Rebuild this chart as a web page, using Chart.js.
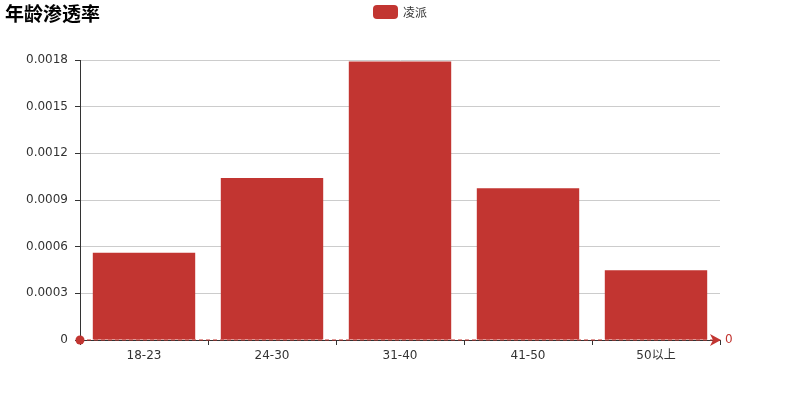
<!DOCTYPE html>
<html>
<head>
<meta charset="utf-8">
<script src="https://cdn.jsdelivr.net/npm/chart.js@4/dist/chart.umd.min.js"></script>
<style>
  html, body { margin: 0; padding: 0; background: #fff; }
  #wrap { width: 800px; height: 400px; }
</style>
</head>
<body>
<div id="wrap"><canvas id="ageChart"></canvas></div>
<script>
// 年龄段
const ageGroups = ['18-23', '24-30', '31-40', '41-50', '50以上'];
// 凌派 渗透率
const lingpaiRate = [0.000561, 0.001042, 0.001791, 0.000976, 0.000448];
// y 轴刻度
const yTicks = [0, 0.0003, 0.0006, 0.0009, 0.0012, 0.0015, 0.0018];
// 标线值
const markValue = [0];

const barColor = '#c23531';
const fontFamily = '"DejaVu Sans", "Noto Sans CJK SC", sans-serif';

// 标题、图例和标线（箭头+圆点）
const decorPlugin = {
  id: 'decor',
  afterDraw(chart) {
    const ctx = chart.ctx;
    const x = chart.scales.x, y = chart.scales.y;
    ctx.save();
    // 标题
    ctx.fillStyle = '#000';
    ctx.font = 'bold 19px "Noto Sans CJK SC", sans-serif';
    ctx.textBaseline = 'top';
    ctx.textAlign = 'left';
    ctx.fillText('年龄渗透率', 5, 4);
    // 图例
    ctx.fillStyle = barColor;
    ctx.beginPath();
    ctx.roundRect(373, 5, 25, 14, 4);
    ctx.fill();
    ctx.fillStyle = '#333';
    ctx.font = '12px "Noto Sans CJK SC", sans-serif';
    ctx.textBaseline = 'middle';
    ctx.fillText('凌派', 403, 12);
    // 标线
    markValue.forEach(v => {
      const py = y.getPixelForValue(v);
      const x0 = x.left, x1 = x.right;
      ctx.strokeStyle = barColor;
      ctx.lineWidth = 1;
      ctx.setLineDash([4, 3]);
      ctx.beginPath();
      ctx.moveTo(x0, py);
      ctx.lineTo(x1 - 4, py);
      ctx.stroke();
      ctx.setLineDash([]);
      ctx.fillStyle = barColor;
      ctx.beginPath();
      ctx.arc(x0, py, 4.5, 0, Math.PI * 2);
      ctx.fill();
      ctx.beginPath();
      ctx.moveTo(x1 - 10, py - 6);
      ctx.lineTo(x1 + 1, py);
      ctx.lineTo(x1 - 10, py + 6);
      ctx.lineTo(x1 - 7, py);
      ctx.closePath();
      ctx.fill();
      ctx.font = '12px ' + fontFamily;
      ctx.textAlign = 'left';
      ctx.fillText(String(v), x1 + 5, py);
    });
    ctx.restore();
  }
};

new Chart(document.getElementById('ageChart'), {
  type: 'bar',
  data: {
    labels: ageGroups,
    datasets: [{
      label: '凌派',
      data: lingpaiRate,
      backgroundColor: barColor,
      borderWidth: 0,
      categoryPercentage: 0.8,
      barPercentage: 1
    }]
  },
  options: {
    responsive: true,
    maintainAspectRatio: false,
    animation: false,
    layout: { padding: { top: 60, right: 80, left: 0, bottom: 0 } },
    plugins: {
      legend: { display: false },
      title: { display: false },
      tooltip: { enabled: false }
    },
    scales: {
      x: {
        afterFit: s => { s.height = 60; },
        grid: { drawOnChartArea: false, offset: true, tickColor: '#333', tickLength: 5 },
        border: { color: '#333' },
        ticks: { color: '#333', font: { size: 12, family: fontFamily }, padding: 4 }
      },
      y: {
        min: 0,
        max: 0.0018,
        afterFit: s => { s.width = 80; },
        afterBuildTicks: s => { s.ticks = yTicks.map(v => ({ value: v })); },
        grid: { color: '#ccc', tickColor: '#333', tickLength: 5 },
        border: { color: '#333' },
        ticks: {
          color: '#333',
          padding: 7,
          font: { size: 12, family: fontFamily },
          callback: v => String(Number(v.toFixed(4)))
        }
      }
    }
  },
  plugins: [decorPlugin]
});
</script>
</body>
</html>
